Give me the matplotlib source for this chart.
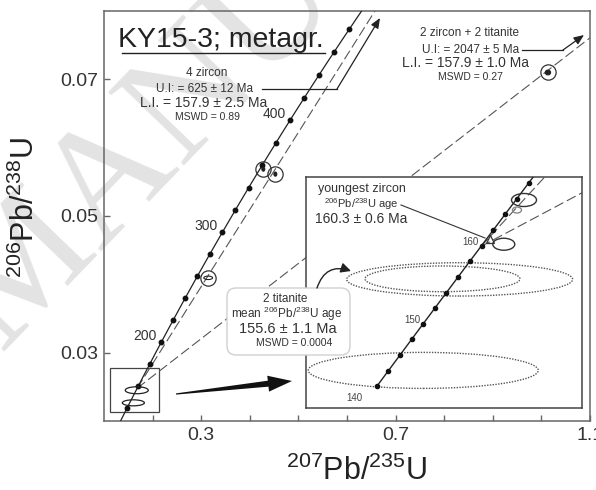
import numpy as np
import matplotlib
matplotlib.use('Agg')
import matplotlib.pyplot as plt
from matplotlib.patches import Ellipse, Rectangle, FancyBboxPatch, FancyArrowPatch, Polygon
from matplotlib.lines import Line2D
from matplotlib.transforms import IdentityTransform

plt.rcParams['font.family'] = ['Liberation Sans', 'DejaVu Sans']
plt.rcParams['mathtext.fontset'] = 'custom'
plt.rcParams['mathtext.rm'] = 'Liberation Sans'
plt.rcParams['mathtext.it'] = 'Liberation Sans:italic'
plt.rcParams['mathtext.bf'] = 'Liberation Sans:bold'

# decay constants (1/yr)
L235 = 9.8485e-10
L238 = 1.55125e-10

# intercept ages, Ma
lower_int = 157.9
upper_int_zr = 625.0
upper_int_all = 2047.0

# concordia age marks, Ma
main_marks = np.arange(140, 500, 20)
main_mark_labels = [200, 300, 400]
inset_marks = np.arange(140, 168, 2)
inset_mark_labels = [140, 150, 160]

# zircon analyses (highlighted by circles) in main plot
zr_x = [0.4278, 0.4526, 0.3144, 1.0134]
zr_y = [0.05686, 0.05613, 0.04095, 0.0710]
zr_w = [0.0060, 0.0060, 0.0180, 0.0110]
zr_h = [0.00060, 0.00060, 0.00050, 0.00070]
zr_fill = [True, True, False, True]

# titanite ellipses in main plot
tit_x = [0.1674, 0.1604]
tit_y = [0.02450, 0.02266]
tit_w = [0.0474, 0.0454]
tit_h = [0.00102, 0.00088]

# zoom window drawn in the main plot
zoom_x = [0.1124, 0.2134]
zoom_y = [0.02139, 0.02781]

# inset: titanite (dotted) ellipses
itit_x = [0.15693, 0.16408, 0.16070]
itit_y = [0.022275, 0.024127, 0.024138]
itit_w = [0.04517, 0.04438, 0.03044]
itit_h = [0.000733, 0.000678, 0.000523]

# inset: zircon ellipses
izr_x = [0.17671, 0.17533, 0.17274]
izr_y = [0.025742, 0.025538, 0.024842]
izr_w = [0.00491, 0.00177, 0.00432]
izr_h = [0.000265, 0.000122, 0.000244]
izr_col = ['#333333', '#888888', '#333333']

# youngest zircon
yz_x = [0.1700]
yz_y = [0.02495]

xticks = [0.2, 0.3, 0.4, 0.5, 0.6, 0.7, 0.8, 0.9, 1.0, 1.1]
xtick_labels = ['', '0.3', '', '', '', '0.7', '', '', '', '1.1']
yticks = [0.03, 0.05, 0.07]
ytick_labels = ['0.03', '0.05', '0.07']


def concordia(t):
    t = np.asarray(t, float) * 1e6
    return np.exp(L235 * t) - 1, np.exp(L238 * t) - 1


W, H = 596, 490
fig = plt.figure(figsize=(W / 100, H / 100), dpi=100)
PIX = IdentityTransform()


def P(px, py):
    return (px, H - py)


def ftext(px, py, s, **kw):
    kw.setdefault('ha', 'center')
    kw.setdefault('va', 'center')
    kw.setdefault('color', '#333333')
    fig.text(px / W, 1 - py / H, s, **kw)


def fline(pts, **kw):
    xs = [p[0] for p in pts]
    ys = [H - p[1] for p in pts]
    fig.add_artist(Line2D(xs, ys, transform=PIX, **kw))


def farrow(p0, p1, **kw):
    a = FancyArrowPatch(P(*p0), P(*p1), transform=PIX, **kw)
    fig.add_artist(a)


# watermark
fig.text(0 / W, 1 - 352 / H, 'MANUSCRIPT', family='Liberation Serif',
         fontsize=116, color='#e3e3e3', rotation=46, rotation_mode='anchor',
         ha='left', va='baseline', zorder=-1)

# ---------------- main axes ----------------
ax = fig.add_axes([104 / W, 1 - 421 / H, 486 / W, 410 / H])
ax.set_facecolor('none')
ax.set_xlim(0.1, 1.1)
ax.set_ylim(0.02, 0.08)

t = np.linspace(120, 520, 500)
cx, cy = concordia(t)
ax.plot(cx, cy, color='#222222', lw=0.9, zorder=3)
mx, my = concordia(main_marks)
ax.plot(mx, my, 'o', ms=3.2, color='#111111', zorder=4)
for a in main_mark_labels:
    x, y = concordia(a)
    ax.annotate(str(a), (x, y), xytext=(-11.5, 4.5), textcoords='offset points',
                ha='center', va='center', fontsize=10, color='#333333')

lx, ly = concordia(lower_int)
for ui in [upper_int_zr, upper_int_all]:
    ux, uy = concordia(ui)
    ax.plot([lx, ux], [ly, uy], color='#555555', lw=0.8,
            ls=(0, (9, 3.5)), zorder=2)

ax.plot(zr_x, zr_y, 'o', ms=11, mfc='none', mec='#333333', mew=0.9, zorder=5)
for x, y, w, h, f in zip(zr_x, zr_y, zr_w, zr_h, zr_fill):
    ax.add_patch(Ellipse((x, y), w, h, fc='#222222' if f else 'none',
                         ec='#222222', lw=0.8, zorder=5))

for x, y, w, h in zip(tit_x, tit_y, tit_w, tit_h):
    ax.add_patch(Ellipse((x, y), w, h, fc='none', ec='#222222', lw=0.9, zorder=5))

ax.add_patch(Rectangle((zoom_x[0], zoom_y[0]), zoom_x[1] - zoom_x[0],
                       zoom_y[1] - zoom_y[0], fill=False, ec='#444444', lw=0.9))

for s in ax.spines.values():
    s.set_color('#666666')
    s.set_linewidth(1.1)
ax.set_xticks(xticks)
ax.set_xticklabels(xtick_labels)
ax.set_yticks(yticks)
ax.set_yticklabels(ytick_labels)
ax.tick_params(direction='in', length=4, width=1, color='#666666',
               labelsize=14, labelcolor='#333333', pad=4)
ax.set_xlabel(r'$^{207}$Pb/$^{235}$U', fontsize=22, color='#222222')
ax.set_ylabel(r'$^{206}$Pb/$^{238}$U', fontsize=22, color='#222222')
ax.xaxis.set_label_coords(0.52, -0.085)
ax.yaxis.set_label_coords(-0.13, 0.52)

# ---------------- inset ----------------
axi = fig.add_axes([306 / W, 1 - 408 / H, 276 / W, 231 / H])
axi.set_xlim(0.1339, 0.1881)
axi.set_ylim(0.02151, 0.02621)
axi.set_xticks([])
axi.set_yticks([])
for s in axi.spines.values():
    s.set_color('#444444')
    s.set_linewidth(1.1)

ti = np.linspace(140, 168, 200)
icx, icy = concordia(ti)
axi.plot(icx, icy, color='#222222', lw=1.0, zorder=3)
imx, imy = concordia(inset_marks)
axi.plot(imx, imy, 'o', ms=3.0, color='#111111', zorder=4)
for a in inset_mark_labels:
    x, y = concordia(a)
    axi.annotate(str(a), (x, y), xytext=(-16.5, -8.5), textcoords='offset points',
                 ha='center', va='center', fontsize=7, color='#444444')
for ui in [upper_int_zr, upper_int_all]:
    ux, uy = concordia(ui)
    axi.plot([lx, ux], [ly, uy], color='#555555', lw=0.8,
             ls=(0, (9, 3.5)), zorder=2)

for x, y, w, h in zip(itit_x, itit_y, itit_w, itit_h):
    axi.add_patch(Ellipse((x, y), w, h, fc='none', ec='#555555', lw=1.0,
                          ls=(0, (1, 1)), zorder=2))
for x, y, w, h, c in zip(izr_x, izr_y, izr_w, izr_h, izr_col):
    axi.add_patch(Ellipse((x, y), w, h, fc='none', ec=c, lw=1.0, zorder=5))
axi.plot(yz_x, yz_y, '^', ms=5.5, mfc='none', mec='#333333', mew=0.9, zorder=6)

# ---------------- annotations ----------------
ftext(118, 47, 'KY15-3; metagr.', fontsize=20.5, color='#222222',
      ha='left', va='baseline')
fline([(122, 53), (325, 53)], color='#222222', lw=1.0)

ftext(207, 73, '4 zircon', fontsize=8.5)
ftext(204, 89, 'U.I: = 625 ± 12 Ma', fontsize=8.5)
ftext(204, 103, 'L.I. = 157.9 ± 2.5 Ma', fontsize=10)
ftext(207, 117, 'MSWD = 0.89', fontsize=7.5)
fline([(262, 89), (337, 89)], color='#222222', lw=0.9)
farrow((337, 89), (380, 18), arrowstyle='-|>,head_length=6,head_width=2.5',
       color='#222222', lw=0.9, shrinkA=0, shrinkB=0)

ftext(469, 33, '2 zircon + 2 titanite', fontsize=8.5)
ftext(471, 50, 'U.I: = 2047 ± 5 Ma', fontsize=8.5)
ftext(466, 63, 'L.I. = 157.9 ± 1.0 Ma', fontsize=10)
ftext(470, 77, 'MSWD = 0.27', fontsize=7.5)
fline([(522, 50), (563, 50)], color='#222222', lw=0.9)
farrow((563, 50), (584, 35), arrowstyle='-|>,head_length=6,head_width=2.5',
       color='#222222', lw=0.9, shrinkA=0, shrinkB=0)

ftext(362, 189, 'youngest zircon', fontsize=9)
ftext(361, 204, r'$^{206}$Pb/$^{238}$U age', fontsize=8)
ftext(361.5, 218.5, '160.3 ± 0.6 Ma', fontsize=10)
fline([(401, 205), (485, 238)], color='#333333', lw=0.8)

box = FancyBboxPatch(P(227, 355), 123, 67, boxstyle='round,pad=0,rounding_size=9',
                     transform=PIX, fc='white', ec='#d0d0d0', lw=1.0, zorder=2)
fig.add_artist(box)
ftext(285, 299, '2 titanite', fontsize=8.5)
ftext(287, 314, r'mean $^{206}$Pb/$^{238}$U age', fontsize=8.5)
ftext(288, 329, '155.6 ± 1.1 Ma', fontsize=10.5)
ftext(294, 343, 'MSWD = 0.0004', fontsize=7.5)

farrow((317, 288), (351, 271), connectionstyle='arc3,rad=-0.5',
       arrowstyle='-|>,head_length=6,head_width=3', color='#222222', lw=1.0,
       shrinkA=0, shrinkB=0, zorder=4)

# big tapered arrow from zoom window to inset
p0 = np.array(P(176, 394), float)
p1 = np.array(P(292, 381), float)
d = (p1 - p0) / np.hypot(*(p1 - p0))
n = np.array([-d[1], d[0]])
b = p1 - d * 24
pts = [p0 + n * 0.6, b + n * 3, b + n * 8, p1, b - n * 8, b - n * 3, p0 - n * 0.6]
fig.add_artist(Polygon(pts, closed=True, transform=PIX, fc='#111111', ec='none',
                       zorder=4))

fig.savefig('out.png', dpi=100)
